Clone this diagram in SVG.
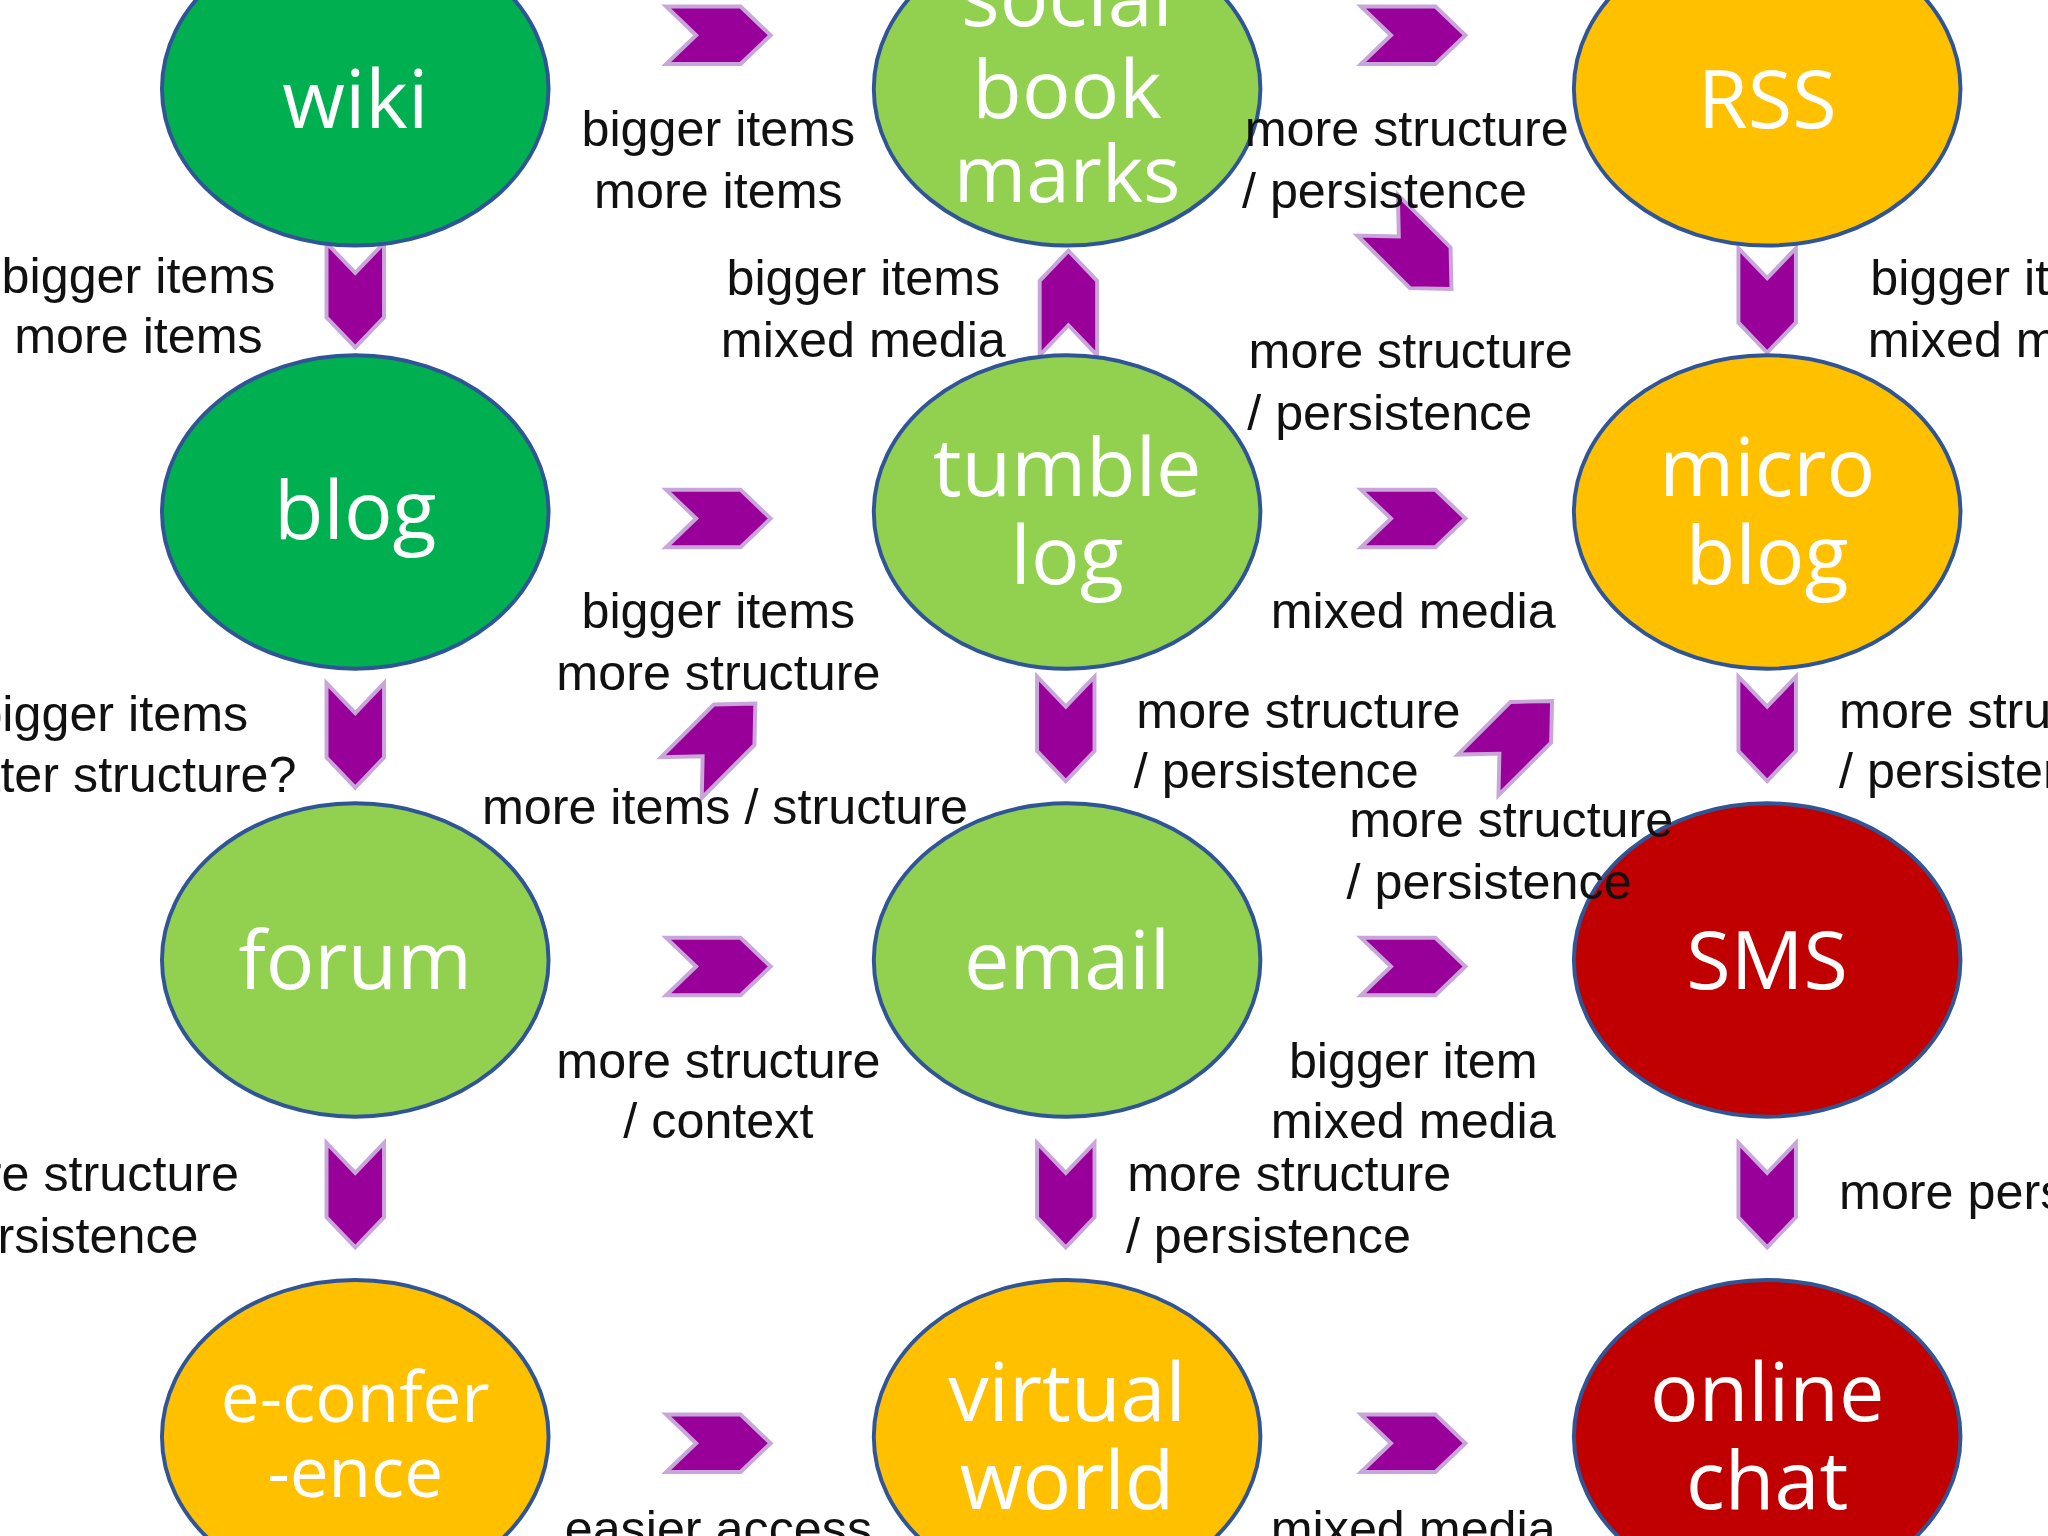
<svg xmlns="http://www.w3.org/2000/svg" width="2048" height="1536" viewBox="0 0 2048 1536">
<style>
.n ellipse{stroke:#2F5597;stroke-width:3}
.dg{fill:#00B050}.lg{fill:#92D050}.yl{fill:#FFC000}.rd{fill:#C00000}
.n text{font-family:"Open Sans",sans-serif;font-size:62px;fill:#fff;text-anchor:middle}
.l text{font-family:"Liberation Sans",Arial,sans-serif;font-size:38.5px;fill:#111}
.c{text-anchor:middle}.e{text-anchor:end}
</style>
<defs>
<path id="ch" d="M-40,-22 L17,-22 L40,0 L17,22 L-40,22 L-17,0 Z" fill="#990099" stroke="#C9A6D9" stroke-width="3"/>
</defs>
<rect width="2048" height="1536" fill="#fff"/>
<g transform="scale(1.30612)">
<g id="connectors">
<use href="#ch" transform="translate(550,27)"/>
<use href="#ch" transform="translate(1082,27)"/>
<use href="#ch" transform="translate(550,397)"/>
<use href="#ch" transform="translate(1082,397)"/>
<use href="#ch" transform="translate(550,740)"/>
<use href="#ch" transform="translate(1082,740)"/>
<use href="#ch" transform="translate(550,1105)"/>
<use href="#ch" transform="translate(1082,1105)"/>
<use href="#ch" transform="translate(272,226) rotate(90)"/>
<use href="#ch" transform="translate(1353,230) rotate(90)"/>
<use href="#ch" transform="translate(272,563) rotate(90)"/>
<use href="#ch" transform="translate(816,558) rotate(90)"/>
<use href="#ch" transform="translate(1353,558) rotate(90)"/>
<use href="#ch" transform="translate(272,915) rotate(90)"/>
<use href="#ch" transform="translate(816,915) rotate(90)"/>
<use href="#ch" transform="translate(1353,915) rotate(90)"/>
<use href="#ch" transform="translate(818,232) rotate(-90)"/>
<use href="#ch" transform="translate(1083,193) rotate(45)"/>
<use href="#ch" transform="translate(550,567) rotate(-45)"/>
<use href="#ch" transform="translate(1160,565) rotate(-45)"/>
</g>
<g id="wiki" class="n"><ellipse class="dg" cx="272" cy="68" rx="148" ry="120"/><text x="272" y="98">wiki</text></g>
<g id="socialbookmarks" class="n"><ellipse class="lg" cx="817" cy="68" rx="148" ry="120"/><text x="817" y="20">social</text><text x="817" y="90">book</text><text x="817" y="155" style="font-size:60px">marks</text></g>
<g id="rss" class="n"><ellipse class="yl" cx="1353" cy="68" rx="148" ry="120"/><text x="1353" y="98">RSS</text></g>
<g id="blog" class="n"><ellipse class="dg" cx="272" cy="392" rx="148" ry="120"/><text x="272" y="413">blog</text></g>
<g id="tumblelog" class="n"><ellipse class="lg" cx="817" cy="392" rx="148" ry="120"/><text x="817" y="380">tumble</text><text x="817" y="447">log</text></g>
<g id="microblog" class="n"><ellipse class="yl" cx="1353" cy="392" rx="148" ry="120"/><text x="1353" y="380">micro</text><text x="1353" y="447">blog</text></g>
<g id="forum" class="n"><ellipse class="lg" cx="272" cy="735" rx="148" ry="120"/><text x="272" y="757">forum</text></g>
<g id="email" class="n"><ellipse class="lg" cx="817" cy="735" rx="148" ry="120"/><text x="817" y="757">email</text></g>
<g id="sms" class="n"><ellipse class="rd" cx="1353" cy="735" rx="148" ry="120"/><text x="1353" y="757">SMS</text></g>
<g id="econference" class="n"><ellipse class="yl" cx="272" cy="1100" rx="148" ry="120"/><text x="272" y="1089" style="font-size:53px">e-confer</text><text x="272" y="1146" style="font-size:53px">-ence</text></g>
<g id="virtualworld" class="n"><ellipse class="yl" cx="817" cy="1100" rx="148" ry="120"/><text x="817" y="1088">virtual</text><text x="817" y="1155">world</text></g>
<g id="onlinechat" class="n"><ellipse class="rd" cx="1353" cy="1100" rx="148" ry="120"/><text x="1353" y="1088">online</text><text x="1353" y="1155">chat</text></g>
<g id="labels" class="l">
<text class="c" x="550" y="112">bigger items</text><text class="c" x="550" y="159">more items</text>
<text class="c" x="1077" y="112">more structure</text><text class="c" x="1060" y="159">/ persistence</text>
<text class="c" x="106" y="224">bigger items</text><text class="c" x="106" y="270">more items</text>
<text class="c" x="661" y="226">bigger items</text><text class="c" x="661" y="273">mixed media</text>
<text x="1432" y="226">bigger items</text><text x="1430" y="273">mixed media</text>
<text class="c" x="1080" y="282">more structure</text><text class="c" x="1064" y="329">/ persistence</text>
<text class="c" x="1082" y="481">mixed media</text>
<text class="c" x="550" y="481">bigger items</text><text class="c" x="550" y="528">more structure</text>
<text class="e" x="190" y="560">bigger items</text><text class="e" x="227" y="606">better structure?</text>
<text x="870" y="557">more structure</text><text x="868" y="603">/ persistence</text>
<text x="1408" y="557">more structure</text><text x="1408" y="603">/ persistence</text>
<text class="c" x="555" y="631">more items / structure</text>
<text x="1033" y="641">more structure</text><text x="1031" y="688">/ persistence</text>
<text class="c" x="550" y="825">more structure</text><text class="c" x="550" y="871">/ context</text>
<text class="c" x="1082" y="825">bigger item</text><text class="c" x="1082" y="871">mixed media</text>
<text class="e" x="183" y="912">more structure</text><text class="e" x="152" y="959">/ persistence</text>
<text x="863" y="912">more structure</text><text x="862" y="959">/ persistence</text>
<text x="1408" y="926">more persistence</text>
<text class="c" x="550" y="1184">easier access</text>
<text class="c" x="1082" y="1184">mixed media</text>
</g>
</g>
</svg>
